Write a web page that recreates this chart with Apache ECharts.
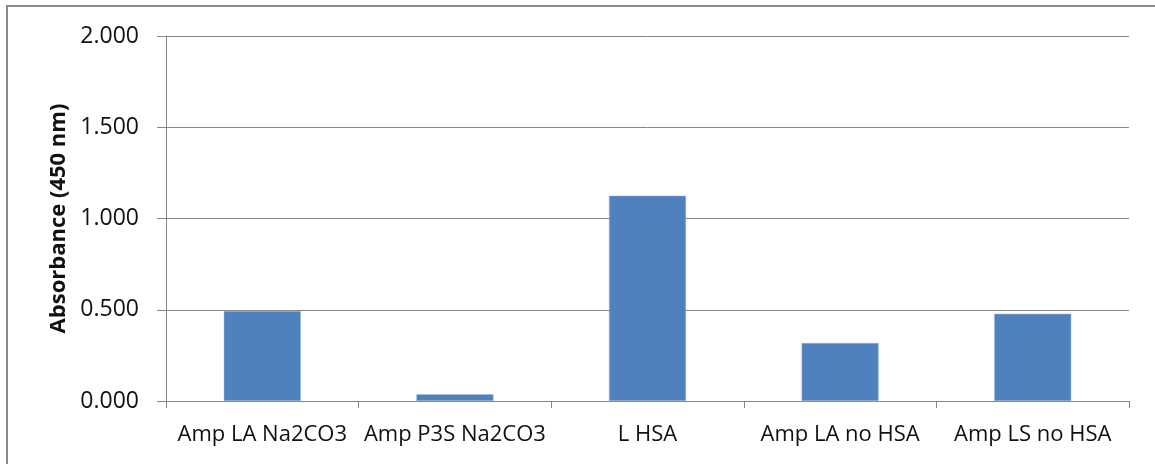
<!DOCTYPE html>
<html>
<head>
<meta charset="utf-8">
<script src="https://cdn.jsdelivr.net/npm/echarts@6/dist/echarts.min.js"></script>
<style>
  html, body { margin: 0; padding: 0; background: #fff; }
  #chart { width: 1155px; height: 464px; }
</style>
</head>
<body>
<div id="chart"></div>
<script>
// Sample names along the category axis
const categories = ['Amp LA Na2CO3', 'Amp P3S Na2CO3', 'L HSA', 'Amp LA no HSA', 'Amp LS no HSA'];
// Measured absorbance at 450 nm
const absorbance = [0.493, 0.037, 1.125, 0.318, 0.478];
// Value axis range and step
const yMin = 0;
const yMax = 2;
const yStep = 0.5;

const FONT = '"Open Sans", "DejaVu Sans", sans-serif';
const TEXT = '#111111';
const LINE = '#868686';

const chart = echarts.init(document.getElementById('chart'), null, { renderer: 'canvas' });
chart.setOption({
  animation: false,
  backgroundColor: '#ffffff',
  graphic: [{
    type: 'rect',
    shape: { x: 7, y: 6, width: 1160, height: 470 },
    style: { fill: 'none', stroke: '#898989', lineWidth: 2 },
    silent: true
  }],
  grid: { left: 166, right: 26, top: 36, bottom: 63, containLabel: false },
  xAxis: {
    type: 'category',
    data: categories,
    boundaryGap: true,
    axisLine: { lineStyle: { color: LINE, width: 1 } },
    axisTick: { show: true, length: 7, lineStyle: { color: LINE } },
    axisLabel: { color: TEXT, fontFamily: FONT, fontSize: 22, margin: 23, interval: 0 }
  },
  yAxis: {
    type: 'value',
    min: yMin,
    max: yMax,
    interval: yStep,
    name: 'Absorbance (450 nm)',
    nameLocation: 'middle',
    nameGap: 95,
    nameTextStyle: { color: TEXT, fontFamily: FONT, fontSize: 22, fontWeight: 'bold' },
    axisLine: { show: true, lineStyle: { color: LINE, width: 1 } },
    axisTick: { show: true, length: 9, lineStyle: { color: LINE } },
    splitLine: { show: true, lineStyle: { color: LINE, width: 1 } },
    axisLabel: {
      color: TEXT, fontFamily: FONT, fontSize: 23, margin: 27,
      formatter: v => v.toFixed(3)
    }
  },
  series: [{
    type: 'bar',
    data: absorbance,
    barWidth: '40%',
    itemStyle: { color: '#4F81BD', borderColor: '#9fb9dc', borderWidth: 0.5 }
  }]
});
</script>
</body>
</html>
